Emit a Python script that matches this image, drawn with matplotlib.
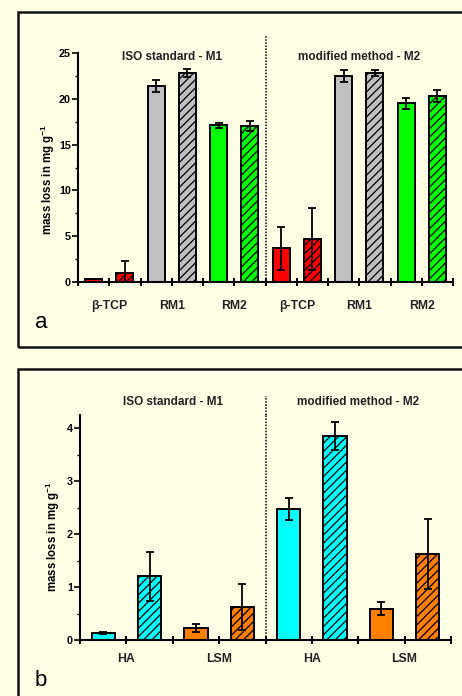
import matplotlib
matplotlib.use('Agg')
import matplotlib.pyplot as plt
from matplotlib.patches import Rectangle
from matplotlib.ticker import MultipleLocator
import numpy as np

plt.rcParams['font.family'] = ['Liberation Sans', 'DejaVu Sans']
plt.rcParams['font.weight'] = 'bold'
plt.rcParams['hatch.linewidth'] = 0.9

# panel a
a_groups = ['β-TCP', 'RM1', 'RM2', 'β-TCP', 'RM1', 'RM2']
a_solid = [0.3, 21.4, 17.1, 3.7, 22.5, 19.5]
a_solid_err = [0.0, 0.65, 0.3, 2.35, 0.65, 0.6]
a_hatch = [1.0, 22.8, 17.0, 4.7, 22.8, 20.3]
a_hatch_err = [1.25, 0.45, 0.55, 3.4, 0.33, 0.65]
a_colors = ['#ff0000', '#c0c0c0', '#00ff00', '#ff0000', '#c0c0c0', '#00ff00']

# panel b
b_groups = ['HA', 'LSM', 'HA', 'LSM']
b_solid = [0.125, 0.23, 2.47, 0.59]
b_solid_err = [0.02, 0.07, 0.21, 0.125]
b_hatch = [1.2, 0.62, 3.85, 1.62]
b_hatch_err = [0.46, 0.44, 0.27, 0.66]
b_colors = ['#00ffff', '#ff8000', '#00ffff', '#ff8000']

titles = ['ISO standard - M1', 'modified method - M2']
ylabel = 'mass loss in mg g$^{\\mathregular{-1}}$'

W, H = 462, 696
bg = '#ffffe6'
fig = plt.figure(figsize=(W / 100, H / 100), dpi=100, facecolor=bg)


def fx(px):
    return px / W


def fy(py):
    return 1 - py / H


# panel frames
fig.patches.append(Rectangle((fx(18), fy(347)), 1.2, fy(12) - fy(347), transform=fig.transFigure,
                             fill=False, edgecolor='#111111', linewidth=1.8))
fig.patches.append(Rectangle((fx(18), fy(720)), 1.2, fy(369) - fy(720), transform=fig.transFigure,
                             fill=False, edgecolor='#111111', linewidth=1.8))


def draw_panel(ax, groups, solid, solid_err, hatch, hatch_err, colors, width):
    n = len(groups)
    xs = np.arange(n) * 2 + 0.5
    xh = xs + 1
    ax.bar(xs, solid, width=width, color=colors, edgecolor='black', linewidth=1.4, zorder=2)
    ax.bar(xh, hatch, width=width, color=colors, edgecolor='black', linewidth=1.4, hatch='////', zorder=2)
    for x, v, e in zip(xs, solid, solid_err):
        if e > 0:
            ax.errorbar(x, v, yerr=e, color='black', capsize=3, elinewidth=1.3, capthick=1.3, zorder=3)
    for x, v, e in zip(xh, hatch, hatch_err):
        if e > 0:
            ax.errorbar(x, v, yerr=e, color='black', capsize=3, elinewidth=1.3, capthick=1.3, zorder=3)
    ax.set_xlim(0, 2 * n)
    ax.set_xticks(range(2 * n + 1))
    labels = [''] * (2 * n + 1)
    for i, g in enumerate(groups):
        labels[2 * i + 1] = g
    ax.set_xticklabels(labels, fontsize=8.8, fontweight='bold', color='#222222')
    ax.set_facecolor('none')
    for s in ['top', 'right']:
        ax.spines[s].set_visible(False)
    for s in ['left', 'bottom']:
        ax.spines[s].set_linewidth(1.5)
    ax.tick_params(axis='x', direction='inout', length=6, width=1.4)
    ax.tick_params(axis='y', which='major', direction='out', length=4, width=1.2, labelsize=7.8, pad=1)
    ax.tick_params(axis='y', which='minor', direction='out', length=2.5, width=1.0)
    for t in ax.get_yticklabels():
        t.set_fontweight('bold')
    ax.plot([n, n], [0, ax.get_ylim()[1] * 1.0], color='black', linestyle=(0, (1, 1)), linewidth=1.1,
            clip_on=False, zorder=1)


# top panel
ax1 = fig.add_axes([fx(78), fy(282), fx(453) - fx(78), fy(53) - fy(282)])
ax1.set_ylim(0, 25)
ax1.yaxis.set_major_locator(MultipleLocator(5))
ax1.yaxis.set_minor_locator(MultipleLocator(2.5))
draw_panel(ax1, a_groups, a_solid, a_solid_err, a_hatch, a_hatch_err, a_colors, 0.55)
ax1.plot([6, 6], [25, 26.9], color='black', linestyle=(0, (1, 1)), linewidth=1.1, clip_on=False)
ax1.tick_params(axis='x', pad=10)
ax1.set_ylabel(ylabel, fontsize=8.3, fontweight='bold')
ax1.yaxis.set_label_coords(-0.055, 0.445)
ax1.text(3, 24.6, titles[0], ha='center', va='center', fontsize=8.5, fontweight='bold', color='#222222')
ax1.text(9, 24.6, titles[1], ha='center', va='center', fontsize=8.5, fontweight='bold', color='#222222')

# bottom panel
ax2 = fig.add_axes([fx(80), fy(640), fx(451) - fx(80), fy(415) - fy(640)])
ax2.set_ylim(0, 4.25)
ax2.yaxis.set_major_locator(MultipleLocator(1))
ax2.yaxis.set_minor_locator(MultipleLocator(0.5))
draw_panel(ax2, b_groups, b_solid, b_solid_err, b_hatch, b_hatch_err, b_colors, 0.5)
ax2.plot([4, 4], [4.25, 4.6], color='black', linestyle=(0, (1, 1)), linewidth=1.1, clip_on=False)
ax2.tick_params(axis='x', pad=6)
ax2.set_ylabel(ylabel, fontsize=8.3, fontweight='bold')
ax2.yaxis.set_label_coords(-0.048, 0.458)
ax2.text(2, 4.5, titles[0], ha='center', va='center', fontsize=8.5, fontweight='bold', color='#222222')
ax2.text(6, 4.5, titles[1], ha='center', va='center', fontsize=8.5, fontweight='bold', color='#222222')

fig.text(fx(35), fy(323), 'a', fontsize=16, fontweight='normal', va='center', ha='left')
fig.text(fx(35), fy(680), 'b', fontsize=16, fontweight='normal', va='center', ha='left')

fig.savefig('out.png', dpi=100, facecolor=bg)
